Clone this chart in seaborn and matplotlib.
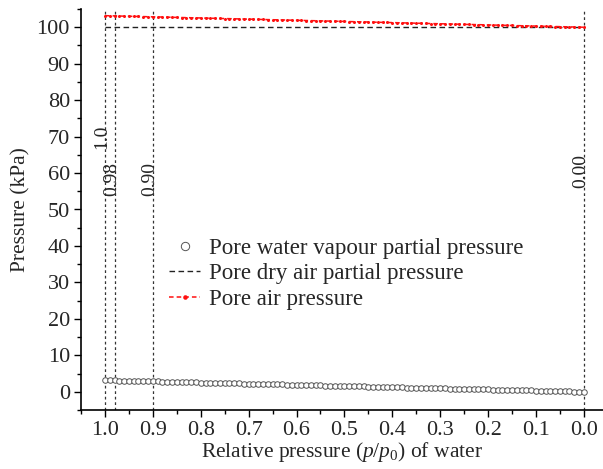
import matplotlib
matplotlib.use("Agg")
import matplotlib.pyplot as plt
from matplotlib.ticker import MultipleLocator
import pandas as pd
import seaborn as sns

# Relative pressure of water (p/p0), from saturated to dry
rel_pressure = [
    1.00, 0.99, 0.98, 0.97, 0.96, 0.95, 0.94, 0.93, 0.92, 0.91,
    0.90, 0.89, 0.88, 0.87, 0.86, 0.85, 0.84, 0.83, 0.82, 0.81,
    0.80, 0.79, 0.78, 0.77, 0.76, 0.75, 0.74, 0.73, 0.72, 0.71,
    0.70, 0.69, 0.68, 0.67, 0.66, 0.65, 0.64, 0.63, 0.62, 0.61,
    0.60, 0.59, 0.58, 0.57, 0.56, 0.55, 0.54, 0.53, 0.52, 0.51,
    0.50, 0.49, 0.48, 0.47, 0.46, 0.45, 0.44, 0.43, 0.42, 0.41,
    0.40, 0.39, 0.38, 0.37, 0.36, 0.35, 0.34, 0.33, 0.32, 0.31,
    0.30, 0.29, 0.28, 0.27, 0.26, 0.25, 0.24, 0.23, 0.22, 0.21,
    0.20, 0.19, 0.18, 0.17, 0.16, 0.15, 0.14, 0.13, 0.12, 0.11,
    0.10, 0.09, 0.08, 0.07, 0.06, 0.05, 0.04, 0.03, 0.02, 0.01,
    0.00,
]

# Pore water vapour partial pressure (kPa)
vapour_pressure = [
    3.17, 3.14, 3.11, 3.07, 3.04, 3.01, 2.98, 2.95, 2.92, 2.88,
    2.85, 2.82, 2.79, 2.76, 2.73, 2.69, 2.66, 2.63, 2.60, 2.57,
    2.54, 2.50, 2.47, 2.44, 2.41, 2.38, 2.35, 2.31, 2.28, 2.25,
    2.22, 2.19, 2.16, 2.12, 2.09, 2.06, 2.03, 2.00, 1.97, 1.93,
    1.90, 1.87, 1.84, 1.81, 1.78, 1.74, 1.71, 1.68, 1.65, 1.62,
    1.59, 1.55, 1.52, 1.49, 1.46, 1.43, 1.39, 1.36, 1.33, 1.30,
    1.27, 1.24, 1.20, 1.17, 1.14, 1.11, 1.08, 1.05, 1.01, 0.98,
    0.95, 0.92, 0.89, 0.86, 0.82, 0.79, 0.76, 0.73, 0.70, 0.67,
    0.63, 0.60, 0.57, 0.54, 0.51, 0.48, 0.44, 0.41, 0.38, 0.35,
    0.32, 0.29, 0.25, 0.22, 0.19, 0.16, 0.13, 0.10, 0.06, 0.03,
    0.00,
]

# Pore dry air partial pressure (kPa)
dry_air_pressure = [
    100.0, 100.0, 100.0, 100.0, 100.0, 100.0, 100.0, 100.0, 100.0, 100.0,
    100.0, 100.0, 100.0, 100.0, 100.0, 100.0, 100.0, 100.0, 100.0, 100.0,
    100.0, 100.0, 100.0, 100.0, 100.0, 100.0, 100.0, 100.0, 100.0, 100.0,
    100.0, 100.0, 100.0, 100.0, 100.0, 100.0, 100.0, 100.0, 100.0, 100.0,
    100.0, 100.0, 100.0, 100.0, 100.0, 100.0, 100.0, 100.0, 100.0, 100.0,
    100.0, 100.0, 100.0, 100.0, 100.0, 100.0, 100.0, 100.0, 100.0, 100.0,
    100.0, 100.0, 100.0, 100.0, 100.0, 100.0, 100.0, 100.0, 100.0, 100.0,
    100.0, 100.0, 100.0, 100.0, 100.0, 100.0, 100.0, 100.0, 100.0, 100.0,
    100.0, 100.0, 100.0, 100.0, 100.0, 100.0, 100.0, 100.0, 100.0, 100.0,
    100.0, 100.0, 100.0, 100.0, 100.0, 100.0, 100.0, 100.0, 100.0, 100.0,
    100.0,
]

# Pore air pressure (kPa)
air_pressure = [
    103.17, 103.14, 103.11, 103.07, 103.04, 103.01, 102.98, 102.95, 102.92, 102.88,
    102.85, 102.82, 102.79, 102.76, 102.73, 102.69, 102.66, 102.63, 102.60, 102.57,
    102.54, 102.50, 102.47, 102.44, 102.41, 102.38, 102.35, 102.31, 102.28, 102.25,
    102.22, 102.19, 102.16, 102.12, 102.09, 102.06, 102.03, 102.00, 101.97, 101.93,
    101.90, 101.87, 101.84, 101.81, 101.78, 101.74, 101.71, 101.68, 101.65, 101.62,
    101.59, 101.55, 101.52, 101.49, 101.46, 101.43, 101.39, 101.36, 101.33, 101.30,
    101.27, 101.24, 101.20, 101.17, 101.14, 101.11, 101.08, 101.05, 101.01, 100.98,
    100.95, 100.92, 100.89, 100.86, 100.82, 100.79, 100.76, 100.73, 100.70, 100.67,
    100.63, 100.60, 100.57, 100.54, 100.51, 100.48, 100.44, 100.41, 100.38, 100.35,
    100.32, 100.29, 100.25, 100.22, 100.19, 100.16, 100.13, 100.10, 100.06, 100.03,
    100.00,
]

# Reference relative pressures marked with vertical guides
marked_values = [1.0, 0.98, 0.90, 0.00]
marked_labels = ["1.0", "0.98", "0.90", "0.00"]
marked_label_y = [70.0, 58.5, 58.5, 60.5]

sns.set_style("ticks")
plt.rcParams["font.family"] = ["Liberation Serif", "DejaVu Serif"]
plt.rcParams["mathtext.fontset"] = "custom"
plt.rcParams["mathtext.rm"] = "Liberation Serif"
plt.rcParams["mathtext.it"] = "Liberation Serif:italic"

df = pd.DataFrame({
    "rel": rel_pressure,
    "vapour": vapour_pressure,
    "dry": dry_air_pressure,
    "air": air_pressure,
})

fig = plt.figure(figsize=(6.03, 4.69), dpi=100)
ax = fig.add_axes([81 / 603, 1 - 410 / 469, 522 / 603, 401 / 469])

# Vertical guide lines
for xv in marked_values:
    ax.axvline(xv, color="#333333", lw=0.9, ls=(0, (2.2, 2.2)), zorder=1)

sns.lineplot(data=df, x="rel", y="vapour", ax=ax, linestyle="none",
             marker="o", markersize=4.0, markerfacecolor="white",
             markeredgecolor="#555555", markeredgewidth=0.7,
             label="Pore water vapour partial pressure", sort=False)
sns.lineplot(data=df, x="rel", y="dry", ax=ax, color="#222222", lw=1.0,
             linestyle=(0, (4, 2.5)), label="Pore dry air partial pressure",
             sort=False)
sns.lineplot(data=df, x="rel", y="air", ax=ax, color="#ff1010", lw=1.1,
             linestyle=(0, (3, 2)), marker="o", markersize=2.2,
             markeredgewidth=0, label="Pore air pressure", sort=False)

for xv, lab, yv in zip(marked_values, marked_labels, marked_label_y):
    ax.text(xv + 0.006, yv, lab, rotation=90, ha="center", va="center",
            fontsize=14)

ax.set_xlim(1.05, -0.04)
ax.set_ylim(-5, 105)
ax.xaxis.set_major_locator(MultipleLocator(0.1))
ax.xaxis.set_minor_locator(MultipleLocator(0.05))
ax.yaxis.set_major_locator(MultipleLocator(10))
ax.yaxis.set_minor_locator(MultipleLocator(5))
ax.set_xticks([1.0, 0.9, 0.8, 0.7, 0.6, 0.5, 0.4, 0.3, 0.2, 0.1, 0.0])
ax.set_xticklabels(["1.0", "0.9", "0.8", "0.7", "0.6", "0.5", "0.4",
                    "0.3", "0.2", "0.1", "0.0"])
ax.tick_params(axis="both", which="major", direction="out", length=5,
               width=1.0, labelsize=16, color="black", pad=3)
ax.tick_params(axis="both", which="minor", direction="out", length=3,
               width=1.0, color="black")

ax.set_xlabel(r"Relative pressure ($p$/$p_0$) of water", fontsize=15.5,
              labelpad=0)
ax.set_ylabel("Pressure (kPa)", fontsize=15.5, labelpad=4)

for side in ["top", "right"]:
    ax.spines[side].set_visible(False)
for side in ["left", "bottom"]:
    ax.spines[side].set_linewidth(1.2)
    ax.spines[side].set_color("black")

ax.legend(loc="center left", bbox_to_anchor=(0.169, 0.34), frameon=False,
          fontsize=16.5, handlelength=1.35, handletextpad=0.4,
          labelspacing=0.2, markerscale=1.5, borderpad=0, borderaxespad=0)

fig.savefig("out.png", dpi=100)
